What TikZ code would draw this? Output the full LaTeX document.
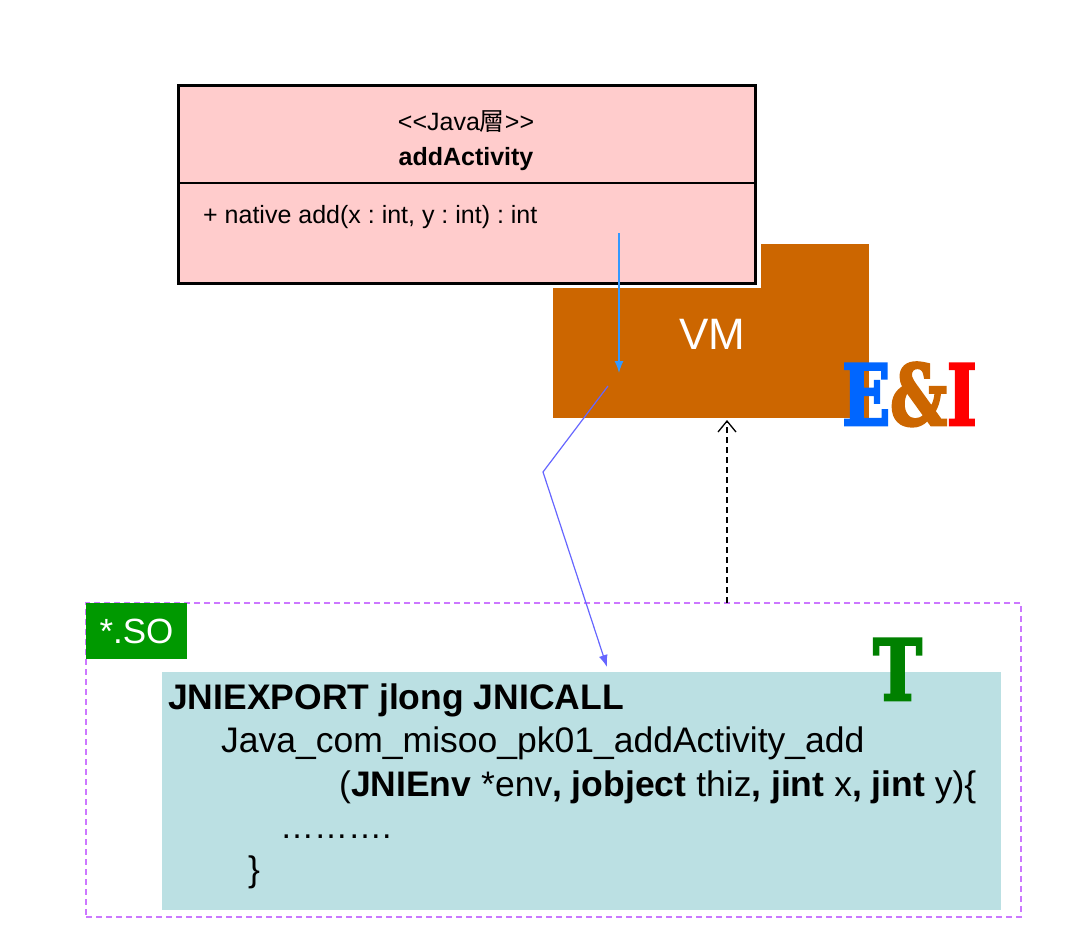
\documentclass[tikz,border=0pt]{standalone}
\usepackage{fontspec}
\setmainfont{Liberation Sans}
\newfontfamily\cjk{Noto Sans CJK TC}
\newfontfamily\slab{DejaVu Serif}[BoldFeatures={FakeBold=3.5}]
\usetikzlibrary{calc,positioning,arrows.meta}
\definecolor{vmorange}{HTML}{CC6600}
\definecolor{umlpink}{HTML}{FFCCCC}
\definecolor{codeteal}{HTML}{BBE0E3}
\definecolor{sogreen}{HTML}{009900}
\definecolor{tgreen}{HTML}{008000}
\definecolor{soviolet}{HTML}{CC77FF}
\definecolor{eiblue}{HTML}{0066FF}
\definecolor{callblue}{HTML}{3399FF}
\definecolor{callpurple}{HTML}{6666FF}
\newcommand{\fsz}[1]{\fontsize{#1}{#1}\selectfont}
\frenchspacing

\begin{document}
\begin{tikzpicture}[
      x=1pt, y=-1pt,
      box/.style={anchor=north west, inner sep=0, outer sep=0},
      umltext/.style={anchor=base, inner sep=0, font=\fsz{25}},
      code/.style={anchor=base west, inner sep=0, font=\fsz{35.5}},
      logo/.style={anchor=base west, inner sep=0, font=\slab\bfseries\fsz{84}},
      down/.style={draw=callblue, line width=1.3pt, -{Latex[length=12pt,width=9pt]}},
      call/.style={draw=callpurple, line width=1.2pt, -{Latex[length=12pt,width=9pt]}},
      reply/.style={draw, line width=1.3pt, dash pattern=on 6pt off 4pt,
        -{Straight Barb[length=11pt,width=18pt,line width=1.3pt]}}
  ]
  \useasboundingbox (0,0) rectangle (1088,950);
  % shared object
  \node[box, draw=soviolet, line width=1.4pt, dash pattern=on 6pt off 4pt,
    minimum width=935pt, minimum height=314pt] (so) at (86,603) {};
  \node[box, fill=sogreen, minimum width=101pt, minimum height=56pt,
    text=white, font=\fsz{35}] (solabel) at (86,603) {*.SO};
  \node[box, fill=codeteal, minimum width=839pt, minimum height=238pt] (codebox) at (162,672) {};
  \node[code, font=\bfseries\fsz{35.5}] (sig) at (168,709) {JNIEXPORT jlong JNICALL};
  \node[code] (fname) at (221,752) {Java\_com\_misoo\_pk01\_addActivity\_add};
  \node[code] (args) at (339,796) {(\textbf{JNIEnv} *env\textbf{, jobject} thiz\textbf{, jint} x\textbf{, jint} y)\{};
  \node[code, font=\fsz{34}] (body) at (280,838) {……….};
  \node[code] (close) at (248,881) {\}};
  % virtual machine
  \node[box, fill=vmorange, minimum width=316pt, minimum height=174pt] (vm) at (553,244) {};
  \node[anchor=base, inner sep=0, text=white, font=\fsz{44}] (vmtext) at (712,349) {VM};
  % java class
  \node[box, fill=white, minimum width=589pt, minimum height=208pt] (umlgap) at (172,80) {};
  \node[box, draw=black, line width=3pt, fill=umlpink,
    minimum width=577pt, minimum height=197pt] (uml) at (178,86) {};
  \draw[line width=2pt] ($(uml.north west)!0.492!(uml.south west)$)
    -- ($(uml.north east)!0.492!(uml.south east)$);
  \node[umltext] (stereo) at (466,130) {<{}<Java{\cjk 層}>{}>};
  \node[umltext, font=\bfseries\fsz{25}] (cname) at (466,165) {addActivity};
  \node[umltext, anchor=base west] (method) at (203,223) {+ native add(x : int, y : int) : int};
  % calls
  \coordinate (callstart) at (619,233);
  \coordinate (calltip) at (619,373);
  \coordinate (jump) at (608,386);
  \coordinate (bend) at (543,472);
  \coordinate (entry) at (607,667);
  \coordinate (ret) at (727,0);
  \draw[down] (callstart) -- (calltip);
  \draw[call] (jump) -- (bend) -- (entry);
  \draw[reply] (so.north -| ret) -- ([yshift=-2pt]vm.south -| ret);
  % marks
  \node[logo] (ei) at (842,425) {\scalebox{0.75}[1]{\textcolor{eiblue}{E}\textcolor{vmorange}{\&}\textcolor{red}{I}}};
  \node[logo, text=tgreen] (t) at (873,700) {\scalebox{0.78}[1]{T}};
\end{tikzpicture}
\end{document}
